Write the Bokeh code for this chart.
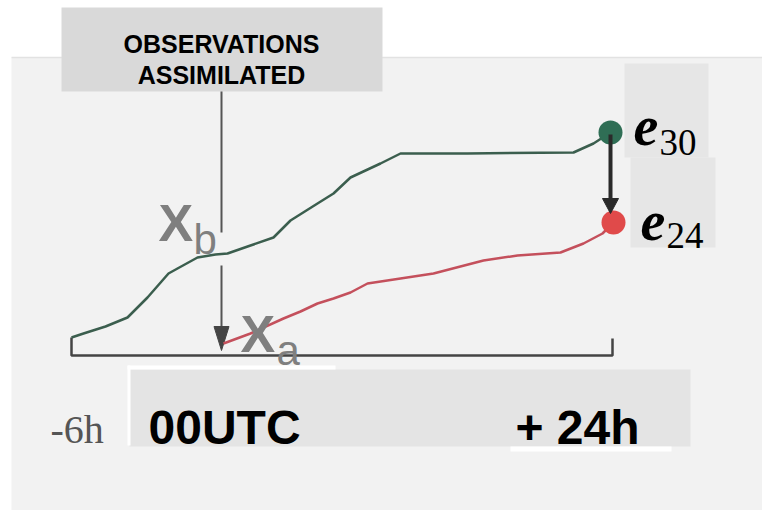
from bokeh.plotting import figure
from bokeh.models import Range1d
from bokeh.core.properties import value
from bokeh.embed import file_html
from bokeh.resources import INLINE

# ---- data (schematic, in picture coordinates) ----
# background trajectory (x_b, green) and analysis trajectory (x_a, red)
green_x = [71, 83, 105, 127, 147, 168, 177, 197, 215, 227, 250, 273, 290, 317, 333, 350, 380, 400, 467, 573, 593, 610]
green_y = [337, 333, 326, 317, 297, 273, 268, 257, 254, 253, 245, 237, 220, 203, 193, 177, 163, 153, 153, 152, 143, 132]
red_x = [223, 250, 283, 300, 317, 333, 350, 367, 400, 433, 483, 517, 560, 583, 602, 613]
red_y = [343, 333, 318, 311, 303, 298, 292, 283, 278, 273, 260, 255, 252, 243, 233, 222]

# end-point errors
err_x = [610, 613]
err_y = [132, 222]
err_colors = ["#2f6e55", "#e04a4a"]

# time axis (bracket)
axis_x = [71, 71, 612, 612]
axis_y = [337, 355, 355, 338]

# label boxes
box_left = [61, 624, 630, 129]
box_right = [382, 708, 715, 690]
box_top = [7, 63, 157, 369]
box_bottom = [91, 157, 247, 446]
box_colors = ["#d9d9d9", "#e6e6e6", "#e6e6e6", "#e4e4e4"]

# white strips
strip_left = [127, 127, 510]
strip_right = [335, 130, 671]
strip_top = [365, 365, 446]
strip_bottom = [369, 445, 451]

obs_lines = ["OBSERVATIONS", "ASSIMILATED"]
time_labels = ["00UTC", "+ 24h"]

W, H = 762, 510
p = figure(width=W, height=H, output_backend="svg", toolbar_location=None,
           x_range=Range1d(0, W), y_range=Range1d(H, 0),
           min_border=0)
p.axis.visible = False
p.grid.visible = False
p.outline_line_color = None
p.background_fill_color = "white"
p.border_fill_color = "white"

# panel
p.quad(left=[11], right=[790], top=[57], bottom=[540], fill_color="#f2f2f2", line_color=None)
p.segment(x0=[11], y0=[57], x1=[790], y1=[57], line_color="#e2e2e2", line_width=1.5)

# boxes
p.quad(left=box_left, right=box_right, top=box_top, bottom=box_bottom,
       fill_color=box_colors, line_color=None)
p.quad(left=strip_left, right=strip_right, top=strip_top, bottom=strip_bottom,
       fill_color="white", line_color=None)

# observation marker line (with gap around the X_b label)
obs_x = 221
p.segment(x0=[obs_x, obs_x], y0=[91, 265], x1=[obs_x, obs_x], y1=[232, 330],
          line_color="#555555", line_width=2)
# arrow head at the analysis time
tip = (obs_x, 350)
hw, hl = 7.5, 24
p.patch(x=[tip[0] - hw, tip[0] + hw, tip[0]], y=[tip[1] - hl, tip[1] - hl, tip[1]],
        fill_color="#444444", line_color="#444444")

# time bracket
p.line(axis_x, axis_y, line_color="#444444", line_width=2.5)

# trajectories
p.line(green_x, green_y, line_color="#3b5e4e", line_width=2.5)
p.line(red_x, red_y, line_color="#c4505c", line_width=2.5)

# error dots
p.scatter(err_x, err_y, size=24, fill_color=err_colors, line_color=None)

# arrow e30 -> e24
ax = err_x[0]
a_top, a_tip = err_y[0] + 2, err_y[1] - 9
p.segment(x0=[ax], y0=[a_top], x1=[ax], y1=[a_tip - 12], line_color="#2a2a2a", line_width=4)
p.patch(x=[ax - 8, ax + 8, ax], y=[a_tip - 15, a_tip - 15, a_tip],
        fill_color="#2a2a2a", line_color="#2a2a2a")

# texts
p.text(x=[221, 221], y=[43, 74], text=obs_lines, text_font=value("Liberation Sans"),
       text_font_style="bold", text_font_size="25px", text_align="center",
       text_baseline="alphabetic", text_color="black")

p.text(x=[148, 515], y=[427, 427], text=time_labels, text_font=value("Liberation Sans"),
       text_font_style="bold", text_font_size="48px", text_align="left",
       text_baseline="alphabetic", text_color="black")

p.text(x=[50], y=[429], text=["-6h"], text_font=value("Liberation Serif"),
       text_font_size="40px", text_align="left", text_baseline="alphabetic",
       text_color="#555555")

# X_b and X_a
p.text(x=[158, 240], y=[222, 333], text=["X", "X"], text_font=value("Liberation Sans"),
       text_font_style="bold", text_font_size="52px", text_align="left",
       text_baseline="alphabetic", text_color="#7f7f7f")
p.text(x=[193, 276], y=[239, 350], text=["b", "a"], text_font=value("Liberation Sans"),
       text_font_size="42px", text_align="left", text_baseline="alphabetic",
       text_color="#7f7f7f")

# e30 / e24
p.text(x=[633, 640], y=[125, 220], text=["e", "e"], text_font=value("Liberation Serif"),
       text_font_style="bold italic", text_font_size="56px", text_align="left",
       text_baseline="alphabetic", text_color="black")
p.text(x=[659, 666], y=[142, 235], text=["30", "24"], text_font=value("Liberation Serif"),
       text_font_size="37px", text_align="left", text_baseline="alphabetic",
       text_color="black")

open("out.html", "w").write(file_html(p, INLINE))
